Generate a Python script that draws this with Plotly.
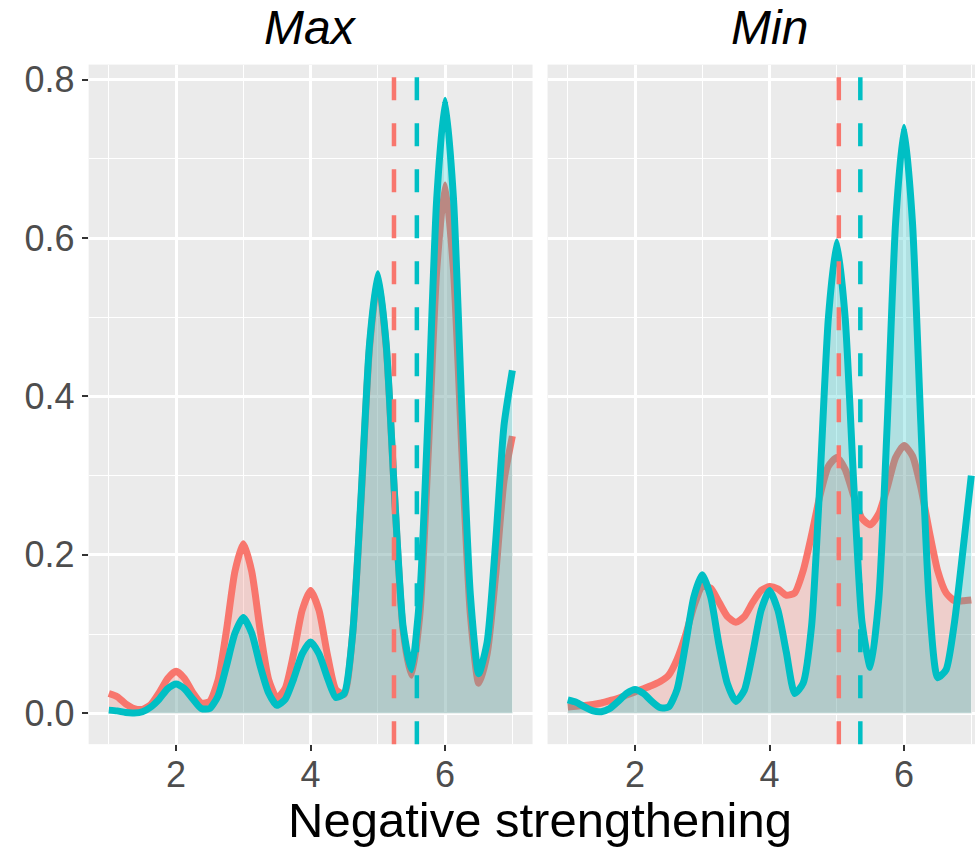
import plotly.graph_objects as go

# ---------------- data ----------------
facets = ["Max", "Min"]
groups = ["red", "teal"]
x_grid = [1 + i * 0.125 for i in range(49)]

max_red = [.025, .021, .012, .006, .005, .011, .026, .044, .053,
           .044, .026, .013, .015, .042, .105, .179, .214,
           .179, .105, .043, .019, .032, .076, .130, .155,
           .130, .074, .030, .024, .100, .268, .460, .550,
           .462, .272, .105, .048, .125, .329, .559, .667,
           .559, .329, .125, .038, .075, .173, .293, .350]

max_teal = [.004, .003, .001, .0005, .002, .008, .018, .031, .037,
            .031, .018, .006, .006, .022, .060, .101, .121,
            .101, .060, .026, .010, .018, .044, .075, .090,
            .075, .045, .020, .025, .100, .273, .465, .555,
            .465, .274, .110, .055, .150, .382, .649, .774,
            .649, .382, .150, .050, .090, .214, .363, .433]

min_red = [.008, .009, .010, .011, .013, .016, .019, .023, .027,
           .031, .035, .040, .048, .068, .098, .135, .160,
           .158, .140, .122, .115, .122, .140, .155, .160,
           .157, .149, .152, .180, .225, .275, .312, .323,
           .308, .275, .246, .238, .252, .285, .323, .338,
           .325, .285, .230, .180, .152, .142, .142, .143]

min_teal = [.017, .014, .008, .003, .002, .006, .015, .025, .030,
            .025, .015, .007, .008, .030, .086, .147, .175,
            .147, .086, .037, .015, .029, .076, .130, .155,
            .130, .077, .025, .038, .110, .293, .499, .595,
            .499, .294, .115, .058, .145, .365, .620, .740,
            .620, .365, .140, .045, .055, .115, .205, .300]

means_max = [5.24, 5.58]   # red, teal
means_min = [5.03, 5.35]   # red, teal

x_tick_vals = [2, 4, 6]
y_tick_vals = [0.0, 0.2, 0.4, 0.6, 0.8]
x_title = "Negative strengthening"

# ---------------- styling ----------------
COL = {"red": "#F8766D", "teal": "#00BFC4"}
FILL = {"red": "rgba(248,118,109,0.25)", "teal": "rgba(0,191,196,0.25)"}
FONT = "Liberation Sans, Arial, sans-serif"

fig = go.Figure()

panel_data = {
    "Max": {"red": max_red, "teal": max_teal, "means": means_max, "xa": "x", "ya": "y"},
    "Min": {"red": min_red, "teal": min_teal, "means": means_min, "xa": "x2", "ya": "y2"},
}

for f in facets:
    pdict = panel_data[f]
    for g in groups:
        fig.add_trace(go.Scatter(
            x=x_grid, y=pdict[g], mode="lines",
            line=dict(color=COL[g], width=7, shape="spline", smoothing=0.6),
            fill="tozeroy", fillcolor=FILL[g],
            xaxis=pdict["xa"], yaxis=pdict["ya"], hoverinfo="skip",
        ))

shapes = []
for f in facets:
    pdict = panel_data[f]
    for g, m in zip(groups, pdict["means"]):
        shapes.append(dict(
            type="line", xref=pdict["xa"], yref=pdict["ya"] + " domain",
            x0=m, x1=m, y0=0, y1=1,
            line=dict(color=COL[g], width=4.5, dash="23px,23px"), layer="above",
        ))

axis_common = dict(
    showgrid=True, gridcolor="white", gridwidth=2.5,
    zeroline=False, showline=False, automargin=False,
    ticks="outside", ticklen=6, tickwidth=2, tickcolor="#333333",
    tickfont=dict(size=36, color="#4D4D4D", family=FONT),
)

y_dom = [0.1245, 0.924]

fig.update_layout(
    width=975, height=850, autosize=False,
    margin=dict(l=0, r=0, t=0, b=0, pad=0),
    paper_bgcolor="white", plot_bgcolor="#EBEBEB",
    showlegend=False,
    font=dict(family=FONT),
    shapes=shapes,
    xaxis=dict(domain=[0.0909, 0.5462], range=[0.7, 7.3], anchor="y",
               tickvals=x_tick_vals, ticklabelstandoff=-7,
               minor=dict(dtick=1, tick0=0, showgrid=True, gridcolor="white", gridwidth=1.3),
               **axis_common),
    xaxis2=dict(domain=[0.5616, 1.0], range=[0.7, 7.055], anchor="y2",
                tickvals=x_tick_vals, ticklabelstandoff=-7,
                minor=dict(dtick=1, tick0=0, showgrid=True, gridcolor="white", gridwidth=1.3),
                **axis_common),
    yaxis=dict(domain=y_dom, range=[-0.039, 0.819], anchor="x",
               tickvals=y_tick_vals, tickformat=".1f",
               minor=dict(dtick=0.1, tick0=0, showgrid=True, gridcolor="white", gridwidth=1.3),
               **axis_common),
    yaxis2=dict(domain=y_dom, range=[-0.039, 0.819], anchor="x2", matches="y",
                tickvals=y_tick_vals, showticklabels=False, automargin=False,
                showgrid=True, gridcolor="white", gridwidth=2.5, zeroline=False,
                ticks="",
                minor=dict(dtick=0.1, tick0=0, showgrid=True, gridcolor="white", gridwidth=1.3)),
    annotations=[
        dict(text="Max", x=0.3185, y=0.968, xref="paper", yref="paper",
             xanchor="center", yanchor="middle", showarrow=False,
             font=dict(size=48, color="black", family=FONT, style="italic")),
        dict(text="Min", x=0.7889, y=0.968, xref="paper", yref="paper",
             xanchor="center", yanchor="middle", showarrow=False,
             font=dict(size=48, color="black", family=FONT, style="italic")),
        dict(text=x_title, x=0.5536, y=0.0353, xref="paper", yref="paper",
             xanchor="center", yanchor="middle", showarrow=False,
             font=dict(size=49, color="black", family=FONT)),
    ],
)

fig.write_html(
    "out.html",
    config={"displayModeBar": False},
    post_script="document.body.style.margin='0';document.body.style.padding='0';",
)
